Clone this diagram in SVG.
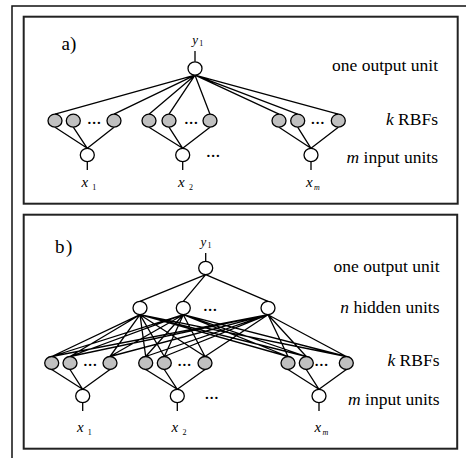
<svg xmlns="http://www.w3.org/2000/svg" width="466" height="458" viewBox="0 0 466 458">
<style>
.frame{fill:none;stroke:#222;stroke-width:2}
.outer{fill:none;stroke:#111;stroke-width:1.5}
.c{fill:none;stroke:#000;stroke-width:1.3}
.w{fill:#fff;stroke:#000;stroke-width:1.3}
.g{fill:#c0c0c0;stroke:#000;stroke-width:1.3}
.lab{font-size:17.5px;text-anchor:end}
.pl{font-size:19px}
.v{font-size:13px;font-style:italic}
.vx{font-size:15px;font-style:italic}
.s{font-size:8px}
.d{font-size:19px;text-anchor:middle}
</style>
<rect width="466" height="458" fill="#fff"/>
<rect class="outer" x="12" y="6" width="470" height="470"/>
<rect class="frame" x="23.7" y="16.7" width="434" height="187"/>
<rect class="frame" x="23.7" y="214.7" width="433.5" height="234"/>

<g id="connectors">
<path class="c" d="M195 51V61.8
M195 75.2L55 114.2M195 75.2L114 114.2M195 75.2L149 114.2M195 75.2L169 114.2M195 75.2L210 114.2M195 75.2L279 114.2M195 75.2L297.7 114.2M195 75.2L338.3 114.2
M55 127.2L87.3 148.3M73.3 127.2L87.3 148.3M114 127.2L87.3 148.3
M149 127.2L182.7 148.3M169 127.2L182.7 148.3M210 127.2L182.7 148.3
M279 127.2L311 148.3M297.7 127.2L311 148.3M338.3 127.2L311 148.3
M87.3 161.7V170M182.7 161.7V170M311 161.7V170"/>
<path class="c" d="M205.7 253V261.3
M205.7 274.7L140 301.3M205.7 274.7L183.3 301.3M205.7 274.7L268 301.3
M140 314.7L51.7 356.5M140 314.7L70 356.5M140 314.7L110 356.5M140 314.7L145.7 356.5M140 314.7L164.3 356.5M140 314.7L205 356.5M140 314.7L288 356.5M140 314.7L306.3 356.5M140 314.7L346.3 356.5
M183.3 314.7L51.7 356.5M183.3 314.7L70 356.5M183.3 314.7L110 356.5M183.3 314.7L145.7 356.5M183.3 314.7L164.3 356.5M183.3 314.7L205 356.5M183.3 314.7L288 356.5M183.3 314.7L306.3 356.5M183.3 314.7L346.3 356.5
M268 314.7L51.7 356.5M268 314.7L70 356.5M268 314.7L110 356.5M268 314.7L145.7 356.5M268 314.7L164.3 356.5M268 314.7L205 356.5M268 314.7L288 356.5M268 314.7L306.3 356.5M268 314.7L346.3 356.5
M51.7 369.5L82.7 389.3M70 369.5L82.7 389.3M110 369.5L82.7 389.3
M145.7 369.5L177.3 389.3M164.3 369.5L177.3 389.3M205 369.5L177.3 389.3
M288 369.5L319 389.3M306.3 369.5L319 389.3M346.3 369.5L319 389.3
M82.7 402.7V411M177.3 402.7V411M319 402.7V411"/>
</g>

<g font-family="'Liberation Serif', 'Times New Roman', serif" fill="#000">
<!-- Panel a -->
<text class="pl" x="61.5" y="50">a)</text>
<g id="a_out"><ellipse class="w" cx="195" cy="68.5" rx="7" ry="6.7"/></g>
<g id="a_rbf1"><ellipse class="g" cx="55" cy="120.7" rx="7" ry="6.5"/></g>
<g id="a_rbf2"><ellipse class="g" cx="73.3" cy="120.7" rx="7" ry="6.5"/></g>
<g id="a_rbf3"><ellipse class="g" cx="114" cy="120.7" rx="7" ry="6.5"/></g>
<g id="a_rbf4"><ellipse class="g" cx="149" cy="120.7" rx="7" ry="6.5"/></g>
<g id="a_rbf5"><ellipse class="g" cx="169" cy="120.7" rx="7" ry="6.5"/></g>
<g id="a_rbf6"><ellipse class="g" cx="210" cy="120.7" rx="7" ry="6.5"/></g>
<g id="a_rbf7"><ellipse class="g" cx="279" cy="120.7" rx="7" ry="6.5"/></g>
<g id="a_rbf8"><ellipse class="g" cx="297.7" cy="120.7" rx="7" ry="6.5"/></g>
<g id="a_rbf9"><ellipse class="g" cx="338.3" cy="120.7" rx="7" ry="6.5"/></g>
<g id="a_in1"><ellipse class="w" cx="87.3" cy="155" rx="7" ry="6.7"/></g>
<g id="a_in2"><ellipse class="w" cx="182.7" cy="155" rx="7" ry="6.7"/></g>
<g id="a_in3"><ellipse class="w" cx="311" cy="155" rx="7" ry="6.7"/></g>
<text class="d" x="94" y="124">...</text>
<text class="d" x="191" y="124">...</text>
<text class="d" x="317.5" y="124">...</text>
<text class="d" x="213" y="157">...</text>
<text class="v" x="192.3" y="44">y</text><text class="s" x="199.3" y="46">1</text>
<text class="vx" x="81.5" y="187">x</text><text class="s" x="92.3" y="189.5">1</text>
<text class="vx" x="178" y="187">x</text><text class="s" x="189" y="189.5">2</text>
<text class="vx" x="306" y="187">x</text><text class="s" x="314" y="189.5" font-style="italic">m</text>
<text class="lab" x="438" y="70.5">one output unit</text>
<text class="lab" x="438" y="124.5"><tspan font-style="italic">k</tspan> RBFs</text>
<text class="lab" x="438" y="162.5"><tspan font-style="italic">m</tspan> input units</text>

<!-- Panel b -->
<text class="pl" x="55" y="253">b<tspan x="66">)</tspan></text>
<g id="b_out"><ellipse class="w" cx="205.7" cy="268" rx="7" ry="6.7"/></g>
<g id="b_hid1"><ellipse class="w" cx="140" cy="308" rx="7" ry="6.7"/></g>
<g id="b_hid2"><ellipse class="w" cx="183.3" cy="308" rx="7" ry="6.7"/></g>
<g id="b_hid3"><ellipse class="w" cx="268" cy="308" rx="7" ry="6.7"/></g>
<g id="b_rbf1"><ellipse class="g" cx="51.7" cy="363" rx="7" ry="6.5"/></g>
<g id="b_rbf2"><ellipse class="g" cx="70" cy="363" rx="7" ry="6.5"/></g>
<g id="b_rbf3"><ellipse class="g" cx="110" cy="363" rx="7" ry="6.5"/></g>
<g id="b_rbf4"><ellipse class="g" cx="145.7" cy="363" rx="7" ry="6.5"/></g>
<g id="b_rbf5"><ellipse class="g" cx="164.3" cy="363" rx="7" ry="6.5"/></g>
<g id="b_rbf6"><ellipse class="g" cx="205" cy="363" rx="7" ry="6.5"/></g>
<g id="b_rbf7"><ellipse class="g" cx="288" cy="363" rx="7" ry="6.5"/></g>
<g id="b_rbf8"><ellipse class="g" cx="306.3" cy="363" rx="7" ry="6.5"/></g>
<g id="b_rbf9"><ellipse class="g" cx="346.3" cy="363" rx="7" ry="6.5"/></g>
<g id="b_in1"><ellipse class="w" cx="82.7" cy="396" rx="7" ry="6.7"/></g>
<g id="b_in2"><ellipse class="w" cx="177.3" cy="396" rx="7" ry="6.7"/></g>
<g id="b_in3"><ellipse class="w" cx="319" cy="396" rx="7" ry="6.7"/></g>
<text class="d" x="210" y="311">...</text>
<text class="d" x="90" y="366">...</text>
<text class="d" x="184.3" y="366">...</text>
<text class="d" x="321.3" y="366">...</text>
<text class="d" x="211.7" y="399">...</text>
<text class="v" x="200.5" y="246">y</text><text class="s" x="207.5" y="248">1</text>
<text class="vx" x="77" y="432">x</text><text class="s" x="87.8" y="434.5">1</text>
<text class="vx" x="171.5" y="432">x</text><text class="s" x="182.5" y="434.5">2</text>
<text class="vx" x="314.5" y="432">x</text><text class="s" x="322.5" y="434.5" font-style="italic">m</text>
<text class="lab" x="439.5" y="271.5">one output unit</text>
<text class="lab" x="439.5" y="312.5"><tspan font-style="italic">n</tspan> hidden units</text>
<text class="lab" x="439.5" y="365.5"><tspan font-style="italic">k</tspan> RBFs</text>
<text class="lab" x="439.5" y="404.5"><tspan font-style="italic">m</tspan> input units</text>
</g>
</svg>
